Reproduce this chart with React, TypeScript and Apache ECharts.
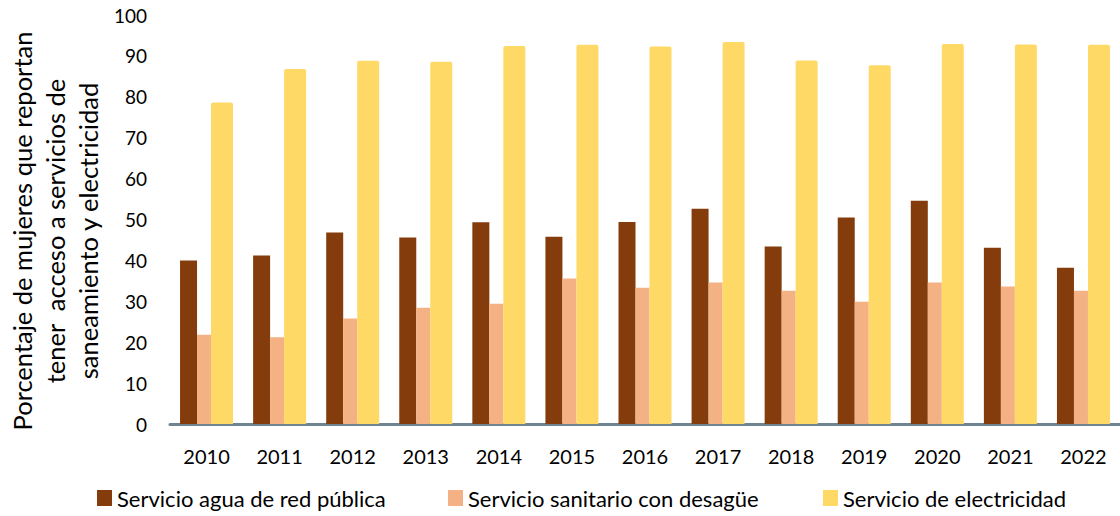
import React, { useEffect, useRef } from "react";
import * as echarts from "echarts";

const years = ["2010", "2011", "2012", "2013", "2014", "2015", "2016", "2017", "2018", "2019", "2020", "2021", "2022"];
const agua = [40.0, 41.2, 46.8, 45.6, 49.3, 45.8, 49.4, 52.6, 43.4, 50.5, 54.6, 43.1, 38.2];
const sanitario = [21.8, 21.2, 25.8, 28.4, 29.4, 35.6, 33.3, 34.6, 32.6, 29.9, 34.6, 33.6, 32.6];
const electricidad = [78.6, 86.8, 88.8, 88.6, 92.4, 92.7, 92.3, 93.4, 88.9, 87.7, 92.9, 92.8, 92.7];
const seriesNames = ["Servicio agua de red pública", "Servicio sanitario con desagüe", "Servicio de electricidad"];
const yTitle = "Porcentaje de mujeres que reportan\ntener  acceso a servicios de\nsaneamiento y electricidad";

const FONT = "Lato, 'Open Sans', sans-serif";
const colors = ["#843C0C", "#F4B183", "#FFD966"];

export default function App() {
  const ref = useRef<HTMLDivElement>(null);
  useEffect(() => {
    if (!ref.current) return;
    const chart = echarts.init(ref.current, null, { renderer: "svg" });
    const legendLefts = [97, 448, 823];
    chart.setOption({
      animation: false,
      textStyle: { fontFamily: FONT },
      grid: { left: 170, right: -2, top: 15, bottom: 92, containLabel: false },
      xAxis: {
        type: "category",
        data: years,
        axisLine: { show: true, lineStyle: { color: "#6F8390", width: 3 } },
        axisTick: { show: false },
        axisLabel: { color: "#000", fontSize: 20, margin: 22, fontFamily: FONT },
      },
      yAxis: {
        type: "value",
        min: 0,
        max: 100,
        interval: 10,
        splitLine: { show: false },
        axisLine: { show: false },
        axisTick: { show: false },
        axisLabel: { color: "#000", fontSize: 19, margin: 23, fontFamily: FONT },
      },
      legend: seriesNames.map((n, i) => ({
        data: [n],
        left: legendLefts[i],
        top: 487,
        padding: 0,
        itemWidth: 15,
        itemHeight: 16,
        icon: "rect",
        textStyle: { color: "#000", fontSize: 22, fontFamily: FONT },
      })),
      graphic: [
        {
          type: "text",
          x: 55,
          y: 231,
          rotation: Math.PI / 2,
          style: {
            text: yTitle,
            fontSize: 25.5,
            fontFamily: FONT,
            fill: "#000",
            align: "center",
            verticalAlign: "middle",
            lineHeight: 33,
          },
        },
      ],
      series: [
        { name: seriesNames[0], type: "bar", data: agua, barWidth: 17, barGap: "0%", itemStyle: { color: colors[0] } },
        { name: seriesNames[1], type: "bar", data: sanitario, barWidth: 14, barGap: "0%", itemStyle: { color: colors[1] } },
        { name: seriesNames[2], type: "bar", data: electricidad, barWidth: 22, barGap: "0%", itemStyle: { color: colors[2], borderRadius: [2, 2, 0, 0] } },
      ],
    });
    return () => chart.dispose();
  }, []);
  return <div ref={ref} style={{ position: "absolute", left: 0, top: 0, width: 1120, height: 516 }} />;
}
